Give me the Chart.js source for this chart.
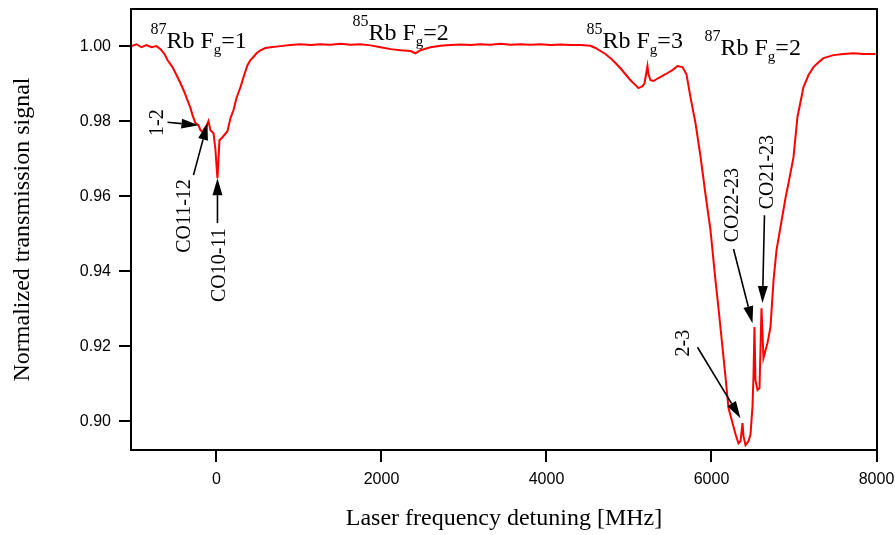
<!DOCTYPE html>
<html>
<head>
<meta charset="utf-8">
<script src="https://cdn.jsdelivr.net/npm/chart.js@4.4.1/dist/chart.umd.min.js"></script>
<style>
  body { margin: 0; background: #fff; }
  .chart-box { width: 895px; height: 535px; }
</style>
</head>
<body>
<div class="chart-box"><canvas id="spectrum"></canvas></div>
<script>
// laser detuning in MHz
const detuning = [
    -1030, -970, -909, -848, -788, -727, -679, -630, -594, -533,
    -485, -436, -388, -352, -315, -291, -255, -218, -194, -170,
    -145, -121, -97, -73, -36, -12, 0, 12, 24, 36,
    73, 133, 170, 206, 242, 291, 339, 376, 412, 448,
    485, 533, 594, 655, 776, 897, 1018, 1139, 1261, 1382,
    1503, 1624, 1745, 1867, 1988, 2109, 2230, 2352, 2412, 2473,
    2594, 2715, 2836, 2958, 3079, 3200, 3321, 3442, 3564, 3685,
    3806, 3927, 4048, 4170, 4291, 4412, 4533, 4594, 4654, 4715,
    4776, 4836, 4897, 4957, 5018, 5079, 5115, 5164, 5188, 5212,
    5224, 5236, 5261, 5297, 5358, 5442, 5527, 5588, 5648, 5697,
    5745, 5806, 5866, 5927, 5988, 6048, 6085, 6133, 6170, 6206,
    6255, 6291, 6327, 6352, 6376, 6388, 6412, 6449, 6473, 6497,
    6509, 6521, 6533, 6558, 6582, 6606, 6630, 6655, 6679, 6715,
    6752, 6788, 6836, 6897, 6934, 6994, 7042, 7115, 7176, 7236,
    7297, 7358, 7479, 7600, 7721, 7842, 7988
];

// normalized transmission
const transmission = [
    1.0000, 1.0005, 0.9997, 1.0003, 0.9997, 1.0000, 0.9992, 0.9979, 0.9963, 0.9944,
    0.9923, 0.9901, 0.9877, 0.9856, 0.9835, 0.9816, 0.9795, 0.9789, 0.9776, 0.9771,
    0.9781, 0.9787, 0.9800, 0.9776, 0.9768, 0.9723, 0.9683, 0.9648, 0.9696, 0.9749,
    0.9757, 0.9773, 0.9808, 0.9829, 0.9861, 0.9891, 0.9925, 0.9949, 0.9963, 0.9971,
    0.9981, 0.9989, 0.9995, 0.9997, 1.0000, 1.0003, 1.0005, 1.0003, 1.0005, 1.0004,
    1.0006, 1.0004, 1.0005, 1.0002, 0.9997, 0.9992, 0.9989, 0.9987, 0.9981, 0.9989,
    0.9997, 1.0001, 1.0003, 1.0004, 1.0003, 1.0005, 1.0004, 1.0006, 1.0004, 1.0005,
    1.0004, 1.0005, 1.0003, 1.0004, 1.0003, 1.0003, 1.0001, 0.9995, 0.9987, 0.9979,
    0.9968, 0.9955, 0.9941, 0.9925, 0.9909, 0.9896, 0.9888, 0.9893, 0.9901, 0.9931,
    0.9947, 0.9925, 0.9909, 0.9907, 0.9915, 0.9925, 0.9936, 0.9947, 0.9944, 0.9925,
    0.9864, 0.9795, 0.9707, 0.9605, 0.9509, 0.9376, 0.9301, 0.9197, 0.9117, 0.9035,
    0.8995, 0.8965, 0.8941, 0.8947, 0.8995, 0.8960, 0.8936, 0.8947, 0.8965, 0.9040,
    0.9120, 0.9251, 0.9109, 0.9083, 0.9088, 0.9301, 0.9168, 0.9189, 0.9208, 0.9251,
    0.9376, 0.9456, 0.9517, 0.9595, 0.9635, 0.9704, 0.9811, 0.9891, 0.9923, 0.9944,
    0.9957, 0.9968, 0.9976, 0.9979, 0.9981, 0.9979, 0.9979
];

const xTicks = [0, 2000, 4000, 6000, 8000];
const yTicks = [0.90, 0.92, 0.94, 0.96, 0.98, 1.00];

// hyperfine group labels: mass number, ground state F
const isoMass = ['87', '85', '85', '87'];
const isoF = ['1', '2', '3', '2'];
const isoX = [-800, 1648, 4485, 5915];
const isoY = [0.99947, 1.0016, 0.99947, 0.9976];

// line labels (rotated) and their arrows
const peakNames = ['1-2', 'CO11-12', 'CO10-11', '2-3', 'CO22-23', 'CO21-23'];
const peakTextX = [-715, -388, 36, 5661, 6255, 6679];
const peakTextY = [0.9796, 0.9547, 0.9416, 0.9208, 0.9576, 0.9664];
const arrowFromX = [-594, -279, 12, 5830, 6267, 6642];
const arrowFromY = [0.9797, 0.9656, 0.9528, 0.9197, 0.9459, 0.9549];
const arrowToX = [-218, -109, 12, 6351, 6497, 6618];
const arrowToY = [0.9789, 0.9795, 0.9648, 0.9008, 0.9261, 0.9315];

const serif = '"Liberation Serif", "Times New Roman", serif';
const sans = '"Liberation Sans", Arial, sans-serif';

function drawArrow(ctx, x1, y1, x2, y2) {
    const ang = Math.atan2(y2 - y1, x2 - x1);
    const len = 17, half = 5;
    const bx = x2 - len * Math.cos(ang);
    const by = y2 - len * Math.sin(ang);
    ctx.beginPath();
    ctx.moveTo(x1, y1);
    ctx.lineTo(bx, by);
    ctx.stroke();
    ctx.beginPath();
    ctx.moveTo(x2, y2);
    ctx.lineTo(bx + half * Math.sin(ang), by - half * Math.cos(ang));
    ctx.lineTo(bx - half * Math.sin(ang), by + half * Math.cos(ang));
    ctx.closePath();
    ctx.fill();
}

const annotations = {
    id: 'annotations',
    afterDraw(chart) {
        const ctx = chart.ctx;
        const xs = chart.scales.x, ys = chart.scales.y;
        const area = chart.chartArea;

        ctx.save();
        // frame
        ctx.strokeStyle = '#000';
        ctx.lineWidth = 2;
        ctx.strokeRect(area.left, area.top, area.right - area.left, area.bottom - area.top);

        ctx.fillStyle = '#000';
        ctx.textBaseline = 'alphabetic';
        ctx.textAlign = 'left';
        for (let i = 0; i < isoMass.length; i++) {
            let x = xs.getPixelForValue(isoX[i]);
            const base = ys.getPixelForValue(isoY[i]);
            ctx.font = '16px ' + serif;
            ctx.fillText(isoMass[i], x, base - 14);
            x += ctx.measureText(isoMass[i]).width;
            ctx.font = '24px ' + serif;
            ctx.fillText('Rb F', x, base);
            x += ctx.measureText('Rb F').width;
            ctx.font = '15px ' + serif;
            ctx.fillText('g', x, base + 6);
            x += ctx.measureText('g').width;
            ctx.font = '24px ' + serif;
            ctx.fillText('=' + isoF[i], x, base);
        }

        ctx.strokeStyle = '#000';
        ctx.lineWidth = 1.6;
        for (let i = 0; i < peakNames.length; i++) {
            drawArrow(ctx,
                xs.getPixelForValue(arrowFromX[i]), ys.getPixelForValue(arrowFromY[i]),
                xs.getPixelForValue(arrowToX[i]), ys.getPixelForValue(arrowToY[i]));

            ctx.save();
            ctx.translate(xs.getPixelForValue(peakTextX[i]), ys.getPixelForValue(peakTextY[i]));
            ctx.rotate(-Math.PI / 2);
            ctx.font = '20px ' + serif;
            ctx.textAlign = 'center';
            ctx.textBaseline = 'middle';
            ctx.fillText(peakNames[i], 0, 0);
            ctx.restore();
        }
        ctx.restore();
    }
};

const points = detuning.map((d, i) => ({ x: d, y: transmission[i] }));

new Chart(document.getElementById('spectrum').getContext('2d'), {
    type: 'line',
    data: {
        datasets: [{
            data: points,
            borderColor: '#ff0000',
            borderWidth: 2,
            pointRadius: 0,
            tension: 0,
            fill: false
        }]
    },
    options: {
        responsive: true,
        maintainAspectRatio: false,
        animation: false,
        events: [],
        layout: { padding: { top: 9, right: 18, left: 0, bottom: 0 } },
        plugins: {
            legend: { display: false },
            tooltip: { enabled: false }
        },
        scales: {
            x: {
                type: 'linear',
                min: -1036,
                max: 8006,
                afterBuildTicks: scale => { scale.ticks = xTicks.map(v => ({ value: v })); },
                afterFit: scale => {
                    scale.height = 85;
                    scale.paddingLeft = 0;
                    scale.paddingRight = 0;
                },
                grid: { display: true, drawOnChartArea: false, drawTicks: true, tickLength: 12, color: '#000', lineWidth: 2 },
                border: { display: true, color: '#000', width: 2 },
                ticks: {
                    color: '#000',
                    padding: 8,
                    maxRotation: 0,
                    font: { family: sans, size: 16 },
                    callback: v => String(v)
                },
                title: {
                    display: true,
                    text: 'Laser frequency detuning [MHz]',
                    color: '#000',
                    font: { family: serif, size: 24 },
                    padding: { top: 0, bottom: 2 }
                }
            },
            y: {
                min: 0.8923,
                max: 1.0099,
                afterBuildTicks: scale => { scale.ticks = yTicks.map(v => ({ value: v })); },
                afterFit: scale => {
                    scale.width = 131;
                    scale.paddingTop = 0;
                    scale.paddingBottom = 0;
                },
                grid: { display: true, drawOnChartArea: false, drawTicks: true, tickLength: 12, color: '#000', lineWidth: 2 },
                border: { display: true, color: '#000', width: 2 },
                ticks: {
                    color: '#000',
                    padding: 8,
                    font: { family: sans, size: 16 },
                    callback: v => v.toFixed(2)
                },
                title: {
                    display: true,
                    text: 'Normalized transmission signal',
                    color: '#000',
                    font: { family: serif, size: 24 },
                    padding: { top: 8, bottom: 0 }
                }
            }
        }
    },
    plugins: [annotations]
});
</script>
</body>
</html>
